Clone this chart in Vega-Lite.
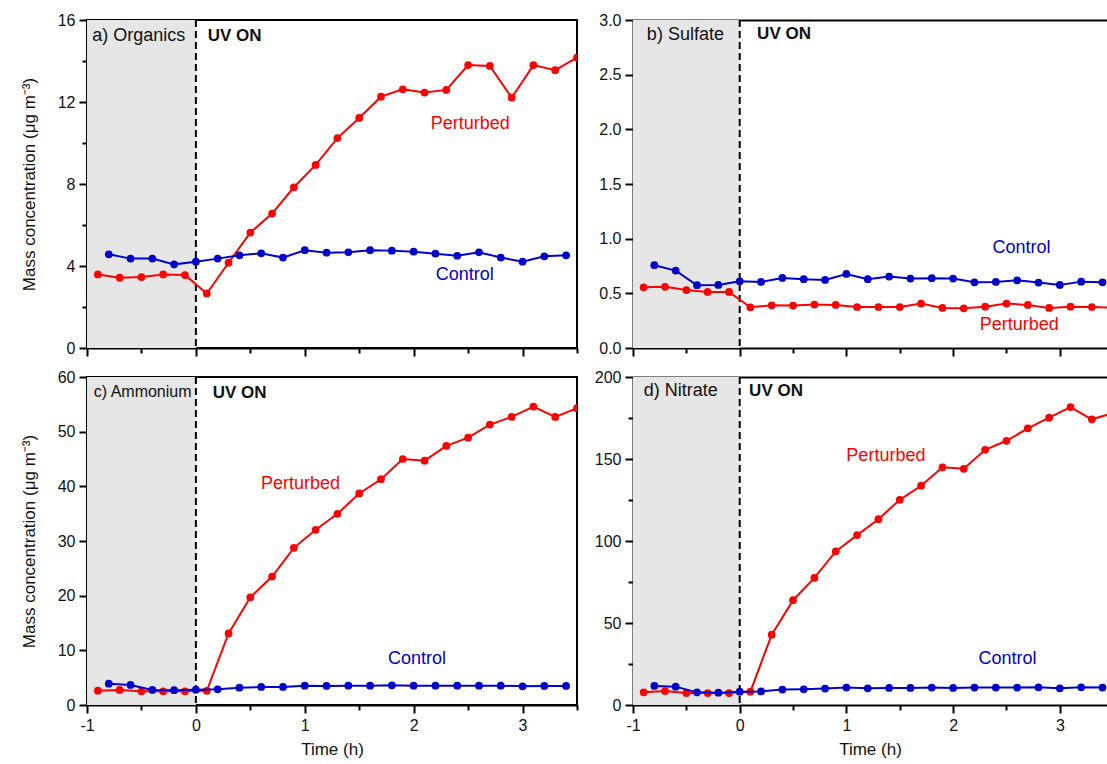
{
  "$schema": "https://vega.github.io/schema/vega-lite/v6.json",
  "autosize": {"type": "pad"},
  "padding": {"left": 19, "top": 11, "right": 0, "bottom": 0},
  "background": "white",
  "config": {
    "font": "Liberation Sans",
    "view": {"stroke": "black", "strokeWidth": 2},
    "axis": {"grid": false, "domainColor": "black", "domainWidth": 2, "tickColor": "black", "tickWidth": 2, "labelFontSize": 16, "labelColor": "#111", "labelFlush": false, "labelOverlap": false, "titleFontSize": 17, "titleFontWeight": "normal", "titleColor": "#111", "labelPadding": 4},
    "axisY": {"titlePadding": 19},
    "axisX": {"titlePadding": 8}
  },
  "datasets": {
    "phases": [{"phase": "before UV", "start": -1, "end": 0}],
    "uv": [{"t": 0}],
    "series": [
      {"group": "Perturbed", "t": -0.9, "a": 3.59, "b": 0.555, "c": 2.62, "d": 7.7},
      {"group": "Perturbed", "t": -0.7, "a": 3.43, "b": 0.56, "c": 2.75, "d": 8.5},
      {"group": "Perturbed", "t": -0.5, "a": 3.46, "b": 0.53, "c": 2.5, "d": 7.3},
      {"group": "Perturbed", "t": -0.3, "a": 3.59, "b": 0.513, "c": 2.5, "d": 7.3},
      {"group": "Perturbed", "t": -0.1, "a": 3.56, "b": 0.513, "c": 2.5, "d": 7.3},
      {"group": "Perturbed", "t": 0.1, "a": 2.66, "b": 0.372, "c": 2.6, "d": 8.1},
      {"group": "Perturbed", "t": 0.3, "a": 4.16, "b": 0.39, "c": 13.1, "d": 42.9},
      {"group": "Perturbed", "t": 0.5, "a": 5.63, "b": 0.388, "c": 19.7, "d": 63.9},
      {"group": "Perturbed", "t": 0.7, "a": 6.56, "b": 0.397, "c": 23.5, "d": 77.5},
      {"group": "Perturbed", "t": 0.9, "a": 7.84, "b": 0.394, "c": 28.75, "d": 93.6},
      {"group": "Perturbed", "t": 1.1, "a": 8.93, "b": 0.375, "c": 32.05, "d": 103.6},
      {"group": "Perturbed", "t": 1.3, "a": 10.24, "b": 0.375, "c": 34.98, "d": 113.3},
      {"group": "Perturbed", "t": 1.5, "a": 11.22, "b": 0.375, "c": 38.7, "d": 125.1},
      {"group": "Perturbed", "t": 1.7, "a": 12.26, "b": 0.406, "c": 41.3, "d": 133.7},
      {"group": "Perturbed", "t": 1.9, "a": 12.62, "b": 0.366, "c": 45.0, "d": 144.9},
      {"group": "Perturbed", "t": 2.1, "a": 12.46, "b": 0.363, "c": 44.7, "d": 144.0},
      {"group": "Perturbed", "t": 2.3, "a": 12.59, "b": 0.378, "c": 47.4, "d": 155.6},
      {"group": "Perturbed", "t": 2.5, "a": 13.8, "b": 0.406, "c": 48.9, "d": 161.1},
      {"group": "Perturbed", "t": 2.7, "a": 13.76, "b": 0.394, "c": 51.3, "d": 168.7},
      {"group": "Perturbed", "t": 2.9, "a": 12.21, "b": 0.366, "c": 52.7, "d": 175.2},
      {"group": "Perturbed", "t": 3.1, "a": 13.8, "b": 0.378, "c": 54.6, "d": 181.7},
      {"group": "Perturbed", "t": 3.3, "a": 13.55, "b": 0.375, "c": 52.7, "d": 174.2},
      {"group": "Perturbed", "t": 3.5, "a": 14.17, "b": 0.37, "c": 54.3, "d": 178.0},
      {"group": "Control", "t": -0.8, "a": 4.57, "b": 0.757, "c": 3.9, "d": 11.6},
      {"group": "Control", "t": -0.6, "a": 4.36, "b": 0.708, "c": 3.66, "d": 11.2},
      {"group": "Control", "t": -0.4, "a": 4.36, "b": 0.574, "c": 2.75, "d": 7.7},
      {"group": "Control", "t": -0.2, "a": 4.08, "b": 0.577, "c": 2.7, "d": 7.5},
      {"group": "Control", "t": 0.0, "a": 4.21, "b": 0.61, "c": 2.8, "d": 8.1},
      {"group": "Control", "t": 0.2, "a": 4.36, "b": 0.604, "c": 2.87, "d": 8.3},
      {"group": "Control", "t": 0.4, "a": 4.52, "b": 0.641, "c": 3.17, "d": 9.4},
      {"group": "Control", "t": 0.6, "a": 4.62, "b": 0.629, "c": 3.3, "d": 9.6},
      {"group": "Control", "t": 0.8, "a": 4.41, "b": 0.622, "c": 3.3, "d": 10.0},
      {"group": "Control", "t": 1.0, "a": 4.77, "b": 0.677, "c": 3.54, "d": 10.6},
      {"group": "Control", "t": 1.2, "a": 4.65, "b": 0.629, "c": 3.48, "d": 10.2},
      {"group": "Control", "t": 1.4, "a": 4.67, "b": 0.653, "c": 3.54, "d": 10.4},
      {"group": "Control", "t": 1.6, "a": 4.77, "b": 0.635, "c": 3.54, "d": 10.4},
      {"group": "Control", "t": 1.8, "a": 4.75, "b": 0.638, "c": 3.6, "d": 10.6},
      {"group": "Control", "t": 2.0, "a": 4.70, "b": 0.635, "c": 3.54, "d": 10.4},
      {"group": "Control", "t": 2.2, "a": 4.6, "b": 0.601, "c": 3.54, "d": 10.6},
      {"group": "Control", "t": 2.4, "a": 4.5, "b": 0.604, "c": 3.54, "d": 10.6},
      {"group": "Control", "t": 2.6, "a": 4.67, "b": 0.619, "c": 3.54, "d": 10.6},
      {"group": "Control", "t": 2.8, "a": 4.41, "b": 0.598, "c": 3.54, "d": 10.8},
      {"group": "Control", "t": 3.0, "a": 4.21, "b": 0.577, "c": 3.42, "d": 10.2},
      {"group": "Control", "t": 3.2, "a": 4.47, "b": 0.607, "c": 3.48, "d": 10.8},
      {"group": "Control", "t": 3.4, "a": 4.52, "b": 0.601, "c": 3.48, "d": 10.6}
    ],
    "labels": [
      {"panel": "a", "group": "Perturbed", "t": 2.52, "v": 10.94},
      {"panel": "a", "group": "Control", "t": 2.47, "v": 3.56},
      {"panel": "b", "group": "Control", "t": 2.64, "v": 0.915},
      {"panel": "b", "group": "Perturbed", "t": 2.62, "v": 0.214},
      {"panel": "c", "group": "Perturbed", "t": 0.96, "v": 40.5},
      {"panel": "c", "group": "Control", "t": 2.03, "v": 8.4},
      {"panel": "d", "group": "Perturbed", "t": 1.37, "v": 152},
      {"panel": "d", "group": "Control", "t": 2.51, "v": 27.9}
    ],
    "notes": [
      {"panel": "a", "kind": "name", "note": "a) Organics", "t": -0.951, "v": 15.22},
      {"panel": "a", "kind": "uv", "note": "UV ON", "t": 0.109, "v": 15.22},
      {"panel": "b", "kind": "name", "note": "b) Sulfate", "t": -0.87, "v": 2.863},
      {"panel": "b", "kind": "uv", "note": "UV ON", "t": 0.163, "v": 2.87},
      {"panel": "c", "kind": "name", "note": "c) Ammonium", "t": -0.938, "v": 57.3},
      {"panel": "c", "kind": "uv", "note": "UV ON", "t": 0.155, "v": 57.0},
      {"panel": "d", "kind": "name", "note": "d) Nitrate", "t": -0.899, "v": 191.6},
      {"panel": "d", "kind": "uv", "note": "UV ON", "t": 0.088, "v": 191.6}
    ]
  },
  "bounds": "flush",
  "columns": 2,
  "spacing": {"row": 29, "column": 56},
  "concat": [
    {
      "width": 490, "height": 328,
      "layer": [
        {"data": {"name": "phases"}, "mark": {"type": "rect", "color": "#e6e6e6"},
         "encoding": {"x": {"field": "start", "type": "quantitative", "scale": {"domain": [-1, 3.5], "nice": false, "zero": false}}, "x2": {"field": "end"}}},
        {"data": {"name": "uv"}, "mark": {"type": "rule", "color": "black", "strokeDash": [7, 4], "strokeWidth": 2},
         "encoding": {"x": {"field": "t", "type": "quantitative"}}},
        {"data": {"name": "series"}, "transform": [{"filter": "datum.group === 'Perturbed'"}],
         "mark": {"type": "line", "strokeWidth": 2, "clip": true},
         "encoding": {
           "x": {"field": "t", "type": "quantitative", "axis": {"values": [-1, -0.5, 0, 0.5, 1, 1.5, 2, 2.5, 3, 3.5], "tickSize": {"condition": {"test": "datum.value % 1 === 0", "value": 8}, "value": 5}, "labels": false, "title": null}},
           "y": {"field": "a", "type": "quantitative", "scale": {"domain": [0, 16], "nice": false}, "axis": {"values": [0, 2, 4, 6, 8, 10, 12, 14, 16], "labelExpr": "datum.value % 4 === 0 ? datum.label : ''", "tickSize": {"condition": {"test": "datum.value % 4 === 0", "value": 8}, "value": 5}, "title": "Mass concentration (μg m⁻³)"}},
           "color": {"field": "group", "type": "nominal", "scale": {"domain": ["Perturbed", "Control"], "range": ["#ff0000", "#0000cc"]}, "legend": null}}},
        {"data": {"name": "series"}, "transform": [{"filter": "datum.group === 'Perturbed'"}],
         "mark": {"type": "point", "filled": true, "size": 60, "opacity": 1, "clip": true},
         "encoding": {"x": {"field": "t", "type": "quantitative"}, "y": {"field": "a", "type": "quantitative"}, "color": {"field": "group", "type": "nominal"}}},
        {"data": {"name": "series"}, "transform": [{"filter": "datum.group === 'Control'"}],
         "mark": {"type": "line", "strokeWidth": 2, "clip": true},
         "encoding": {"x": {"field": "t", "type": "quantitative"}, "y": {"field": "a", "type": "quantitative"}, "color": {"field": "group", "type": "nominal"}}},
        {"data": {"name": "series"}, "transform": [{"filter": "datum.group === 'Control'"}],
         "mark": {"type": "point", "filled": true, "size": 60, "opacity": 1, "clip": true},
         "encoding": {"x": {"field": "t", "type": "quantitative"}, "y": {"field": "a", "type": "quantitative"}, "color": {"field": "group", "type": "nominal"}}},
        {"data": {"name": "labels"}, "transform": [{"filter": "datum.panel === 'a'"}],
         "mark": {"type": "text", "fontSize": 18, "align": "center", "baseline": "middle"},
         "encoding": {"x": {"field": "t", "type": "quantitative"}, "y": {"field": "v", "type": "quantitative"}, "text": {"field": "group"}, "color": {"field": "group", "type": "nominal"}}},
        {"data": {"name": "notes"}, "transform": [{"filter": "datum.panel === 'a' && datum.kind === 'name'"}],
         "mark": {"type": "text", "fontSize": 18, "align": "left", "baseline": "middle", "color": "#111"},
         "encoding": {"x": {"field": "t", "type": "quantitative"}, "y": {"field": "v", "type": "quantitative"}, "text": {"field": "note"}}},
        {"data": {"name": "notes"}, "transform": [{"filter": "datum.panel === 'a' && datum.kind === 'uv'"}],
         "mark": {"type": "text", "fontSize": 17, "fontWeight": "bold", "align": "left", "baseline": "middle", "color": "#111"},
         "encoding": {"x": {"field": "t", "type": "quantitative"}, "y": {"field": "v", "type": "quantitative"}, "text": {"field": "note"}}}
      ]
    },
    {
      "width": 474, "height": 328,
      "view": {"stroke": null},
      "layer": [
        {"layer": [
          {"data": {"name": "phases"}, "mark": {"type": "rect", "color": "#e6e6e6"},
           "encoding": {"x": {"field": "start", "type": "quantitative", "scale": {"domain": [-1, 3.442], "nice": false, "zero": false}}, "x2": {"field": "end"}}},
          {"data": {"name": "uv"}, "mark": {"type": "rule", "color": "black", "strokeDash": [7, 4], "strokeWidth": 2},
           "encoding": {"x": {"field": "t", "type": "quantitative"}}},
          {"data": {"name": "series"}, "transform": [{"filter": "datum.group === 'Perturbed'"}],
           "mark": {"type": "line", "strokeWidth": 2, "clip": true},
           "encoding": {
             "x": {"field": "t", "type": "quantitative", "axis": {"values": [-1, -0.5, 0, 0.5, 1, 1.5, 2, 2.5, 3], "tickSize": {"condition": {"test": "datum.value % 1 === 0", "value": 8}, "value": 5}, "labels": false, "title": null}},
             "y": {"field": "b", "type": "quantitative", "scale": {"domain": [0, 3], "nice": false}, "axis": {"values": [0, 0.25, 0.5, 0.75, 1, 1.25, 1.5, 1.75, 2, 2.25, 2.5, 2.75, 3], "labelExpr": "datum.value % 0.5 === 0 ? format(datum.value, '.1f') : ''", "tickSize": {"condition": {"test": "datum.value % 0.5 === 0", "value": 8}, "value": 5}, "title": null}},
             "color": {"field": "group", "type": "nominal", "scale": {"domain": ["Perturbed", "Control"], "range": ["#ff0000", "#0000cc"]}, "legend": null}}},
          {"data": {"name": "series"}, "transform": [{"filter": "datum.group === 'Perturbed'"}],
           "mark": {"type": "point", "filled": true, "size": 60, "opacity": 1, "clip": true},
           "encoding": {"x": {"field": "t", "type": "quantitative"}, "y": {"field": "b", "type": "quantitative"}, "color": {"field": "group", "type": "nominal"}}},
          {"data": {"name": "series"}, "transform": [{"filter": "datum.group === 'Control'"}],
           "mark": {"type": "line", "strokeWidth": 2, "clip": true},
           "encoding": {"x": {"field": "t", "type": "quantitative"}, "y": {"field": "b", "type": "quantitative"}, "color": {"field": "group", "type": "nominal"}}},
          {"data": {"name": "series"}, "transform": [{"filter": "datum.group === 'Control'"}],
           "mark": {"type": "point", "filled": true, "size": 60, "opacity": 1, "clip": true},
           "encoding": {"x": {"field": "t", "type": "quantitative"}, "y": {"field": "b", "type": "quantitative"}, "color": {"field": "group", "type": "nominal"}}},
          {"data": {"name": "labels"}, "transform": [{"filter": "datum.panel === 'b'"}],
           "mark": {"type": "text", "fontSize": 18, "align": "center", "baseline": "middle"},
           "encoding": {"x": {"field": "t", "type": "quantitative"}, "y": {"field": "v", "type": "quantitative"}, "text": {"field": "group"}, "color": {"field": "group", "type": "nominal"}}},
          {"data": {"name": "notes"}, "transform": [{"filter": "datum.panel === 'b' && datum.kind === 'name'"}],
           "mark": {"type": "text", "fontSize": 18, "align": "left", "baseline": "middle", "color": "#111"},
           "encoding": {"x": {"field": "t", "type": "quantitative"}, "y": {"field": "v", "type": "quantitative"}, "text": {"field": "note"}}},
          {"data": {"name": "notes"}, "transform": [{"filter": "datum.panel === 'b' && datum.kind === 'uv'"}],
           "mark": {"type": "text", "fontSize": 17, "fontWeight": "bold", "align": "left", "baseline": "middle", "color": "#111"},
           "encoding": {"x": {"field": "t", "type": "quantitative"}, "y": {"field": "v", "type": "quantitative"}, "text": {"field": "note"}}}
        ]},
        {"data": {"name": "uv"}, "mark": {"type": "rule", "opacity": 0},
         "encoding": {"x": {"field": "t", "type": "quantitative", "axis": {"orient": "top", "ticks": false, "labels": false, "title": null, "domain": true}}}}
      ],
      "resolve": {"axis": {"x": "independent"}}
    },
    {
      "width": 490, "height": 328,
      "layer": [
        {"data": {"name": "phases"}, "mark": {"type": "rect", "color": "#e6e6e6"},
         "encoding": {"x": {"field": "start", "type": "quantitative", "scale": {"domain": [-1, 3.5], "nice": false, "zero": false}}, "x2": {"field": "end"}}},
        {"data": {"name": "uv"}, "mark": {"type": "rule", "color": "black", "strokeDash": [7, 4], "strokeWidth": 2},
         "encoding": {"x": {"field": "t", "type": "quantitative"}}},
        {"data": {"name": "series"}, "transform": [{"filter": "datum.group === 'Perturbed'"}],
         "mark": {"type": "line", "strokeWidth": 2, "clip": true},
         "encoding": {
           "x": {"field": "t", "type": "quantitative", "axis": {"values": [-1, -0.5, 0, 0.5, 1, 1.5, 2, 2.5, 3, 3.5], "labelExpr": "datum.value % 1 === 0 ? (datum.value < 0 ? '-' + (-datum.value) : '' + datum.value) : ''", "tickSize": {"condition": {"test": "datum.value % 1 === 0", "value": 8}, "value": 5}, "title": "Time (h)"}},
           "y": {"field": "c", "type": "quantitative", "scale": {"domain": [0, 60], "nice": false}, "axis": {"values": [0, 5, 10, 15, 20, 25, 30, 35, 40, 45, 50, 55, 60], "labelExpr": "datum.value % 10 === 0 ? datum.label : ''", "tickSize": {"condition": {"test": "datum.value % 10 === 0", "value": 8}, "value": 5}, "title": "Mass concentration (μg m⁻³)"}},
           "color": {"field": "group", "type": "nominal", "scale": {"domain": ["Perturbed", "Control"], "range": ["#ff0000", "#0000cc"]}, "legend": null}}},
        {"data": {"name": "series"}, "transform": [{"filter": "datum.group === 'Perturbed'"}],
         "mark": {"type": "point", "filled": true, "size": 60, "opacity": 1, "clip": true},
         "encoding": {"x": {"field": "t", "type": "quantitative"}, "y": {"field": "c", "type": "quantitative"}, "color": {"field": "group", "type": "nominal"}}},
        {"data": {"name": "series"}, "transform": [{"filter": "datum.group === 'Control'"}],
         "mark": {"type": "line", "strokeWidth": 2, "clip": true},
         "encoding": {"x": {"field": "t", "type": "quantitative"}, "y": {"field": "c", "type": "quantitative"}, "color": {"field": "group", "type": "nominal"}}},
        {"data": {"name": "series"}, "transform": [{"filter": "datum.group === 'Control'"}],
         "mark": {"type": "point", "filled": true, "size": 60, "opacity": 1, "clip": true},
         "encoding": {"x": {"field": "t", "type": "quantitative"}, "y": {"field": "c", "type": "quantitative"}, "color": {"field": "group", "type": "nominal"}}},
        {"data": {"name": "labels"}, "transform": [{"filter": "datum.panel === 'c'"}],
         "mark": {"type": "text", "fontSize": 18, "align": "center", "baseline": "middle"},
         "encoding": {"x": {"field": "t", "type": "quantitative"}, "y": {"field": "v", "type": "quantitative"}, "text": {"field": "group"}, "color": {"field": "group", "type": "nominal"}}},
        {"data": {"name": "notes"}, "transform": [{"filter": "datum.panel === 'c' && datum.kind === 'name'"}],
         "mark": {"type": "text", "fontSize": 16, "align": "left", "baseline": "middle", "color": "#111"},
         "encoding": {"x": {"field": "t", "type": "quantitative"}, "y": {"field": "v", "type": "quantitative"}, "text": {"field": "note"}}},
        {"data": {"name": "notes"}, "transform": [{"filter": "datum.panel === 'c' && datum.kind === 'uv'"}],
         "mark": {"type": "text", "fontSize": 17, "fontWeight": "bold", "align": "left", "baseline": "middle", "color": "#111"},
         "encoding": {"x": {"field": "t", "type": "quantitative"}, "y": {"field": "v", "type": "quantitative"}, "text": {"field": "note"}}}
      ]
    },
    {
      "width": 474, "height": 328,
      "view": {"stroke": null},
      "layer": [
        {"layer": [
          {"data": {"name": "phases"}, "mark": {"type": "rect", "color": "#e6e6e6"},
           "encoding": {"x": {"field": "start", "type": "quantitative", "scale": {"domain": [-1, 3.442], "nice": false, "zero": false}}, "x2": {"field": "end"}}},
          {"data": {"name": "uv"}, "mark": {"type": "rule", "color": "black", "strokeDash": [7, 4], "strokeWidth": 2},
           "encoding": {"x": {"field": "t", "type": "quantitative"}}},
          {"data": {"name": "series"}, "transform": [{"filter": "datum.group === 'Perturbed'"}],
           "mark": {"type": "line", "strokeWidth": 2, "clip": true},
           "encoding": {
             "x": {"field": "t", "type": "quantitative", "axis": {"values": [-1, -0.5, 0, 0.5, 1, 1.5, 2, 2.5, 3], "labelExpr": "datum.value % 1 === 0 ? (datum.value < 0 ? '-' + (-datum.value) : '' + datum.value) : ''", "tickSize": {"condition": {"test": "datum.value % 1 === 0", "value": 8}, "value": 5}, "title": "Time (h)"}},
             "y": {"field": "d", "type": "quantitative", "scale": {"domain": [0, 200], "nice": false}, "axis": {"values": [0, 25, 50, 75, 100, 125, 150, 175, 200], "labelExpr": "datum.value % 50 === 0 ? datum.label : ''", "tickSize": {"condition": {"test": "datum.value % 50 === 0", "value": 8}, "value": 5}, "title": null}},
             "color": {"field": "group", "type": "nominal", "scale": {"domain": ["Perturbed", "Control"], "range": ["#ff0000", "#0000cc"]}, "legend": null}}},
          {"data": {"name": "series"}, "transform": [{"filter": "datum.group === 'Perturbed'"}],
           "mark": {"type": "point", "filled": true, "size": 60, "opacity": 1, "clip": true},
           "encoding": {"x": {"field": "t", "type": "quantitative"}, "y": {"field": "d", "type": "quantitative"}, "color": {"field": "group", "type": "nominal"}}},
          {"data": {"name": "series"}, "transform": [{"filter": "datum.group === 'Control'"}],
           "mark": {"type": "line", "strokeWidth": 2, "clip": true},
           "encoding": {"x": {"field": "t", "type": "quantitative"}, "y": {"field": "d", "type": "quantitative"}, "color": {"field": "group", "type": "nominal"}}},
          {"data": {"name": "series"}, "transform": [{"filter": "datum.group === 'Control'"}],
           "mark": {"type": "point", "filled": true, "size": 60, "opacity": 1, "clip": true},
           "encoding": {"x": {"field": "t", "type": "quantitative"}, "y": {"field": "d", "type": "quantitative"}, "color": {"field": "group", "type": "nominal"}}},
          {"data": {"name": "labels"}, "transform": [{"filter": "datum.panel === 'd'"}],
           "mark": {"type": "text", "fontSize": 18, "align": "center", "baseline": "middle"},
           "encoding": {"x": {"field": "t", "type": "quantitative"}, "y": {"field": "v", "type": "quantitative"}, "text": {"field": "group"}, "color": {"field": "group", "type": "nominal"}}},
          {"data": {"name": "notes"}, "transform": [{"filter": "datum.panel === 'd' && datum.kind === 'name'"}],
           "mark": {"type": "text", "fontSize": 18, "align": "left", "baseline": "middle", "color": "#111"},
           "encoding": {"x": {"field": "t", "type": "quantitative"}, "y": {"field": "v", "type": "quantitative"}, "text": {"field": "note"}}},
          {"data": {"name": "notes"}, "transform": [{"filter": "datum.panel === 'd' && datum.kind === 'uv'"}],
           "mark": {"type": "text", "fontSize": 17, "fontWeight": "bold", "align": "left", "baseline": "middle", "color": "#111"},
           "encoding": {"x": {"field": "t", "type": "quantitative"}, "y": {"field": "v", "type": "quantitative"}, "text": {"field": "note"}}}
        ]},
        {"data": {"name": "uv"}, "mark": {"type": "rule", "opacity": 0},
         "encoding": {"x": {"field": "t", "type": "quantitative", "axis": {"orient": "top", "ticks": false, "labels": false, "title": null, "domain": true}}}}
      ],
      "resolve": {"axis": {"x": "independent"}}
    }
  ]
}
